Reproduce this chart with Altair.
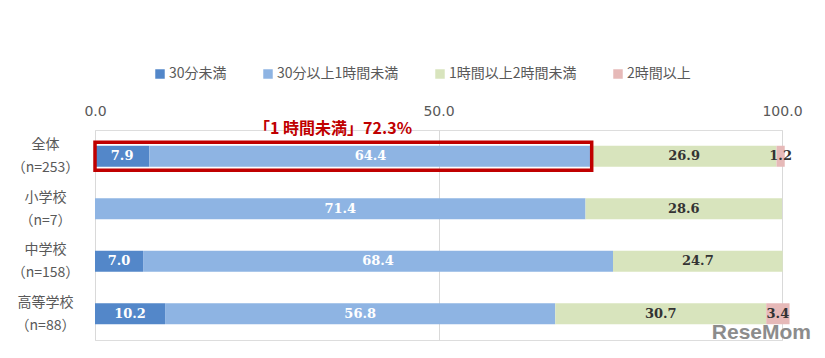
import altair as alt
import pandas as pd

groups = ["全体|（n=253）", "小学校|（n=7）", "中学校|（n=158）", "高等学校|（n=88）"]
series = ["30分未満", "30分以上1時間未満", "1時間以上2時間未満", "2時間以上"]
colors = ["#5387c9", "#8eb4e3", "#d8e4bd", "#e6b9b8"]
label_colors = ["#ffffff", "#ffffff", "#333333", "#333333"]
values = [
    [7.9, 64.4, 26.9, 1.2],
    [0.0, 71.4, 28.6, 0.0],
    [7.0, 68.4, 24.7, 0.0],
    [10.2, 56.8, 30.7, 3.4],
]
highlight_value = 72.3
highlight_text = "「1 時間未満」72.3%"

rows = []
for g, vals in zip(groups, values):
    start = 0.0
    for i, (s, v) in enumerate(zip(series, vals)):
        end = start + v
        if v > 0:
            rows.append({"group": g, "series": s, "order": i, "value": v,
                         "start": start, "end": end, "mid": (start + end) / 2,
                         "label": f"{v:.1f}", "lc": label_colors[i]})
        start = end
df = pd.DataFrame(rows)

font = "Noto Sans CJK JP"

y_enc = alt.Y("group:N", sort=groups, title=None,
              scale=alt.Scale(paddingInner=0.6, paddingOuter=0.3),
              axis=alt.Axis(labelExpr="split(datum.value, '|')", labelAlign="center",
                            labelPadding=50, ticks=False, domain=False, labelColor="#595959",
                            labelFontSize=14, labelFont=font, labelLineHeight=23,
                            labelBaseline="middle", labelOffset=-11))
x_scale = alt.Scale(domain=[0, 100], nice=False)

bars = alt.Chart(df).mark_bar(size=21).encode(
    y=y_enc,
    x=alt.X("start:Q", scale=x_scale, title=None,
            axis=alt.Axis(orient="top", values=[0, 50, 100], format=".1f", domain=False,
                          ticks=False, grid=True, gridColor="#d9d9d9", labelColor="#595959",
                          labelFontSize=14, labelFont="DejaVu Sans", labelPadding=12,
                          labelFlush=False)),
    x2="end:Q",
    color=alt.Color("series:N", sort=series, title=None,
                    scale=alt.Scale(domain=series, range=colors),
                    legend=alt.Legend(orient="none", direction="horizontal", legendX=58, legendY=-63,
                                      symbolType="square", symbolSize=90, symbolStrokeWidth=0,
                                      labelFont=font, labelFontSize=14, labelColor="#595959",
                                      columnPadding=34, symbolOffset=0, labelOffset=2)),
)

labels = alt.Chart(df).mark_text(font="DejaVu Serif", fontWeight="bold", fontSize=13).encode(
    y=alt.Y("group:N", sort=groups),
    x=alt.X("mid:Q", scale=x_scale),
    text="label:N",
    color=alt.Color("lc:N", scale=None),
)

hl = pd.DataFrame({"group": [groups[0]], "start": [0.0], "end": [highlight_value],
                   "mid": [highlight_value / 2 - 1.5], "text": [highlight_text]})
box = alt.Chart(hl).mark_bar(size=28, filled=False, stroke="#c00000", strokeWidth=3.5).encode(
    y=alt.Y("group:N", sort=groups),
    x=alt.X("start:Q", scale=x_scale),
    x2="end:Q",
)
hl_text = alt.Chart(hl).mark_text(color="#c00000", fontWeight="bold", fontSize=16, font=font,
                                  dy=-27).encode(
    y=alt.Y("group:N", sort=groups),
    x=alt.X("mid:Q", scale=x_scale),
    text="text:N",
)

wm = alt.Chart(pd.DataFrame({"t": ["ReseMom"]})).mark_text(
    font="Liberation Sans", fontWeight="bold", fontSize=21, color="#8c8c8c", align="right",
    baseline="middle").encode(x=alt.value(716), y=alt.value(203), text="t:N")

chart = alt.layer(bars, labels, box, hl_text, wm).properties(
    width=687, height=210,
    autosize=alt.AutoSizeParams(type="none"),
    padding={"left": 87, "top": 122, "right": 30, "bottom": 10},
).configure_view(stroke=None).configure(background="white")

chart.save("out.html", embed_options={"renderer": "svg", "actions": False})
